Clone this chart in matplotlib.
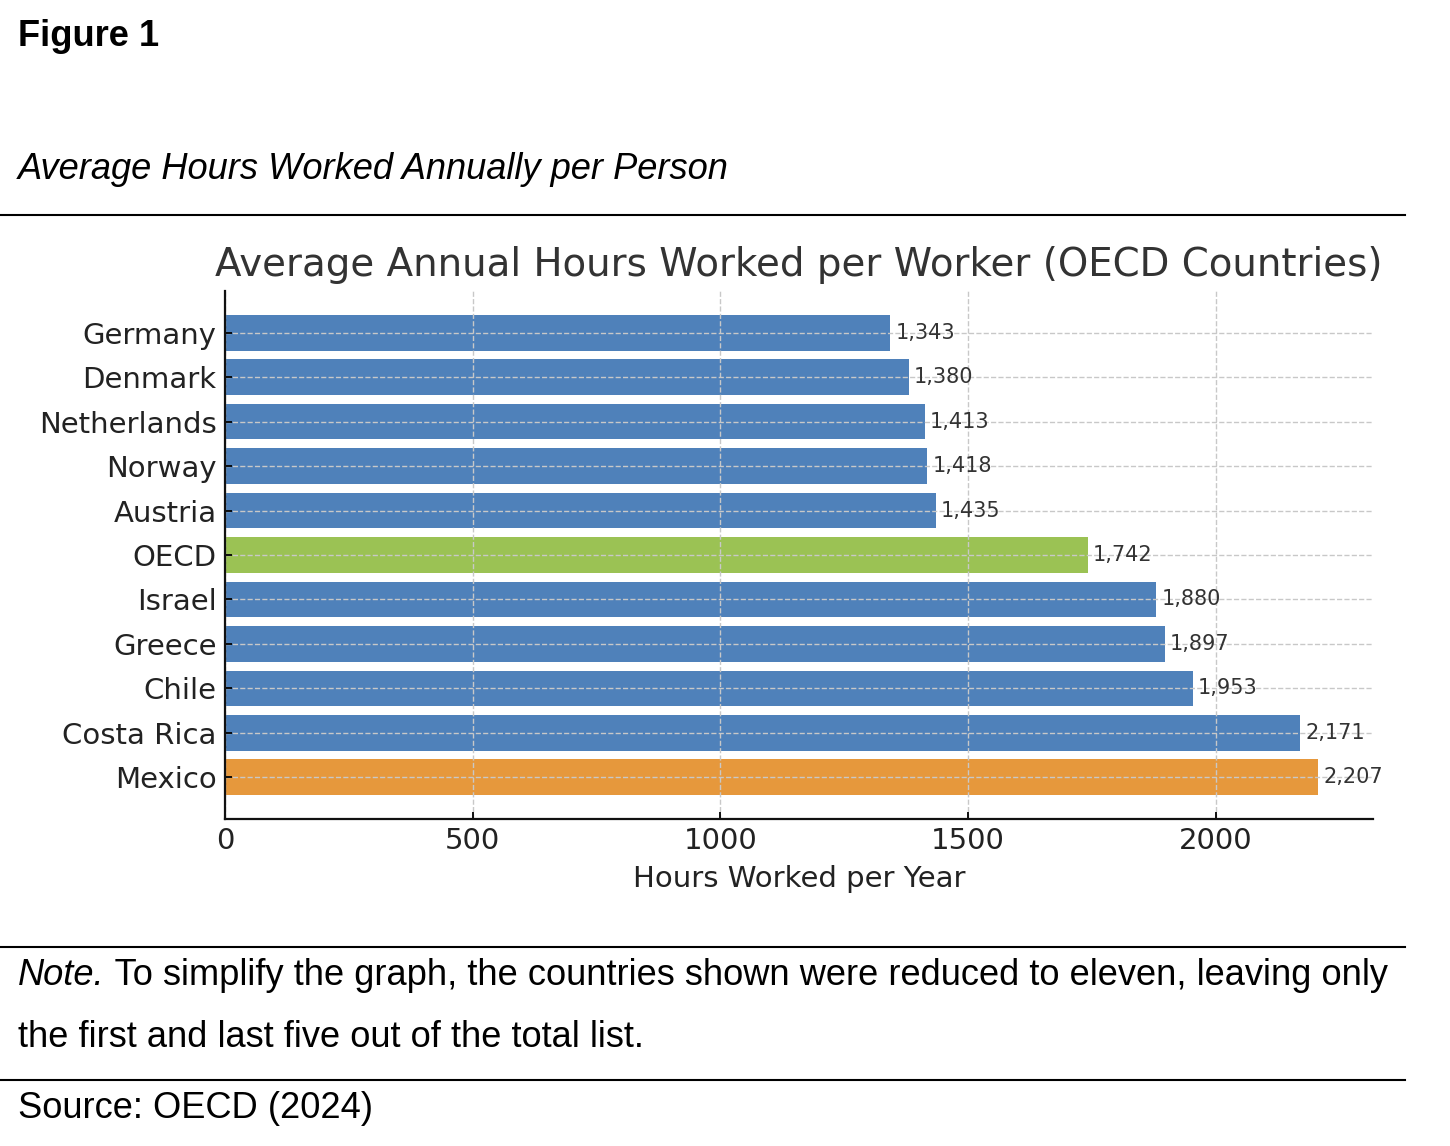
import numpy as np
import matplotlib.pyplot as plt
from matplotlib.lines import Line2D

# 数据
countries = ['Germany', 'Denmark', 'Netherlands', 'Norway', 'Austria', 'OECD',
             'Israel', 'Greece', 'Chile', 'Costa Rica', 'Mexico']
hours = [1343, 1380, 1413, 1418, 1435, 1742, 1880, 1897, 1953, 2171, 2207]
blue, green, orange = '#4F81BA', '#9BC254', '#E6983C'
colors = [green if c == 'OECD' else orange if c == 'Mexico' else blue for c in countries]

fig = plt.figure(figsize=(14.5, 11.46), dpi=100)
ax = fig.add_axes([225/1450, 1-819/1146, (1373-225)/1450, (819-291)/1146])

y = np.arange(len(countries))
ax.barh(y, hours, height=0.8, color=colors)
ax.invert_yaxis()
ax.set_yticks(y)
ax.set_yticklabels(countries)

for yi, v in zip(y, hours):
    ax.text(v + 10, yi, f'{v:,}', va='center', ha='left', fontsize=15, color='#333333')

ax.set_axisbelow(False)
ax.grid(True, linestyle='--', color='#c8c8c8', linewidth=1)
ax.spines['top'].set_visible(False)
ax.spines['right'].set_visible(False)
for s in ['left', 'bottom']:
    ax.spines[s].set_linewidth(1.6)
    ax.spines[s].set_color('#111111')
    ax.spines[s].set_zorder(3)
ax.tick_params(direction='in', length=5, width=1.3, labelsize=21, labelcolor='#222222',
               pad=6)
ax.set_title('Average Annual Hours Worked per Worker (OECD Countries)',
             fontsize=27.9, color='#333333', pad=11)
ax.set_xlabel('Hours Worked per Year', fontsize=21, color='#222222', labelpad=7)

# 外部文字
arial = 'Liberation Sans'
fs = 26.1
fig.text(18/1450, 1-46/1146, 'Figure 1', fontsize=fs, fontweight='bold',
         family=arial, va='baseline')
fig.text(18/1450, 1-179/1146, 'Average Hours Worked Annually per Person', fontsize=fs,
         style='italic', family=arial, va='baseline')
note = fig.text(18/1450, 1-985/1146, 'Note.', fontsize=fs, style='italic',
                family=arial, va='baseline')
ax.annotate(' To simplify the graph, the countries shown were reduced to eleven, leaving only',
            xy=(1, 0), xycoords=note, va='bottom', ha='left', fontsize=fs,
            family=arial, annotation_clip=False)
fig.text(18/1450, 1-1047/1146, 'the first and last five out of the total list.',
         fontsize=fs, family=arial, va='baseline')
fig.text(18/1450, 1-1118/1146, 'Source: OECD (2024)', fontsize=fs, family=arial,
         va='baseline')

for yy in [215, 947, 1080]:
    fig.add_artist(Line2D([0, 1405/1450], [1-yy/1146, 1-yy/1146],
                          transform=fig.transFigure, color='black', linewidth=1.5))

plt.savefig('out.png', dpi=100)
